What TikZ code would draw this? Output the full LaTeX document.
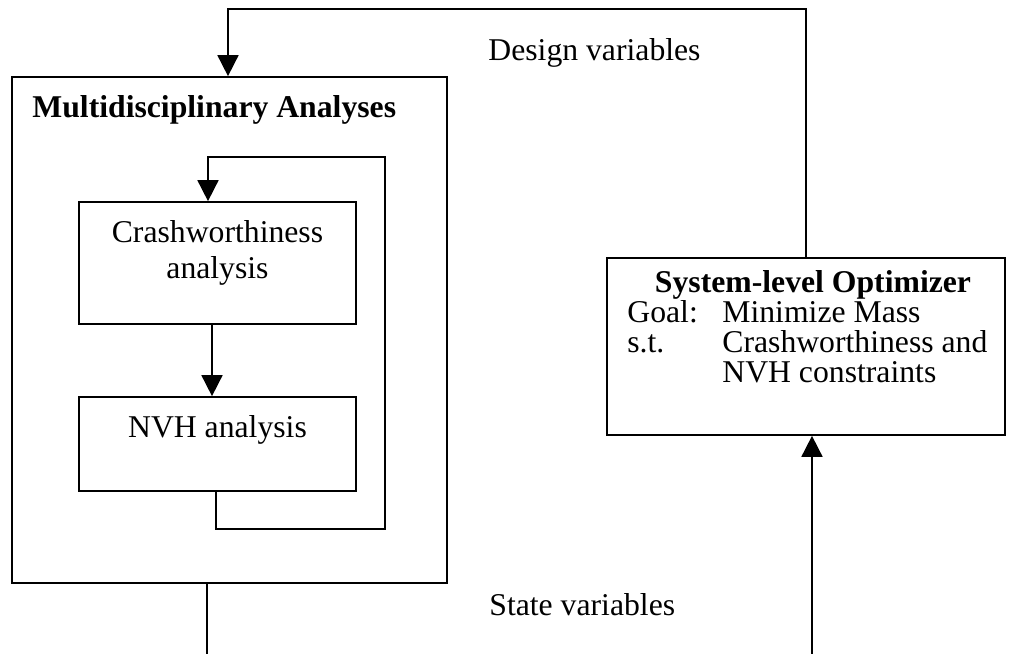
\documentclass[tikz,border=0pt]{standalone}
\usepackage{fontspec}
\setmainfont{Liberation Serif}
\usetikzlibrary{arrows.meta}
\begin{document}
\begin{tikzpicture}[x=0.5pt,y=-0.5pt,
  every node/.style={font=\fontsize{15.85}{19}\selectfont},
  box/.style={draw, line width=0.85pt, inner sep=0pt},
  txt/.style={inner sep=0pt},
  conn/.style={line width=0.85pt},
  arr/.style={conn, -{Triangle[length=10.5pt,width=10.5pt]}}]
\useasboundingbox (0,0) rectangle (1009,654);
% boxes
\node[box, minimum width=217.5pt, minimum height=253pt] (mda) at (229.5,330) {};
\node[box, minimum width=138.5pt, minimum height=61pt] (crash) at (217.5,263) {};
\node[box, minimum width=138.5pt, minimum height=47pt] (nvh) at (217.5,444) {};
\node[box, minimum width=199pt, minimum height=88.5pt] (opt) at (806,346.5) {};
% texts
\node[txt, anchor=base west, font=\fontsize{15.85}{19}\selectfont\bfseries] (mdat) at (32,117) {Multidisciplinary Analyses};
\node[txt, anchor=base] (crt1) at (217.5,242) {Crashworthiness};
\node[txt, anchor=base] (crt2) at (217.5,278) {analysis};
\node[txt, anchor=base] (nvht) at (217.5,437) {NVH analysis};
\node[txt, anchor=base, font=\fontsize{15.85}{19}\selectfont\bfseries] (optt) at (813,292) {System-level Optimizer};
\node[txt, anchor=base west] (goal) at (627,322) {Goal:};
\node[txt, anchor=base west] (goalv) at (722,322) {Minimize Mass};
\node[txt, anchor=base west] (st) at (627,352) {s.t.};
\node[txt, anchor=base west] (stv1) at (722,352) {Crashworthiness and};
\node[txt, anchor=base west] (stv2) at (722,382) {NVH constraints};
\node[txt, anchor=base west] (dv) at (488,60) {Design variables};
\node[txt, anchor=base west] (sv) at (489,615) {State variables};
% connectors
\coordinate (tl) at (228,9);
\draw[arr] (opt.north) |- (tl) -- (tl |- mda.north);
\draw[arr] ([xshift=-2.75pt]crash.south) -- ([xshift=-2.75pt]nvh.north);
\coordinate (lbr) at (385,529);
\coordinate (ltr) at (385,157);
\draw[arr] ([xshift=-0.75pt]nvh.south) |- (lbr) -- (ltr) -| ([xshift=-4.75pt]crash.north);
\coordinate (b1) at (207,654);
\draw[conn] (mda.south -| b1) -- (b1);
\coordinate (b2) at (812,654);
\draw[arr] (b2) -- (b2 |- opt.south);
\end{tikzpicture}
\end{document}
